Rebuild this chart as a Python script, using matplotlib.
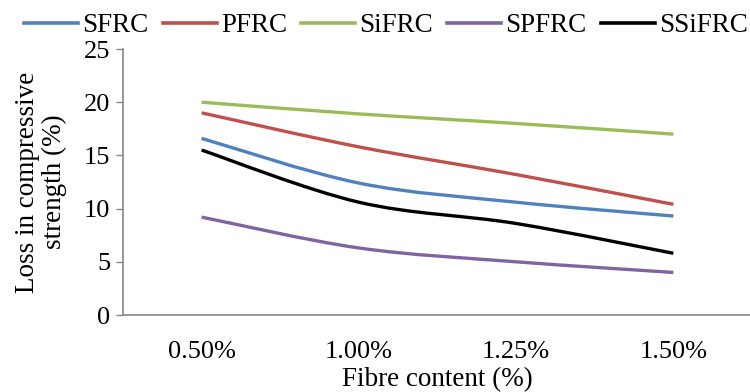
import matplotlib
matplotlib.use("Agg")
import matplotlib.pyplot as plt
from matplotlib.path import Path
from matplotlib.patches import PathPatch
from matplotlib.lines import Line2D
import numpy as np

plt.rcParams['font.family'] = ['Liberation Serif', 'DejaVu Serif']

categories = ["0.50%", "1.00%", "1.25%", "1.50%"]
series_names = ["SFRC", "PFRC", "SiFRC", "SPFRC", "SSiFRC"]
sfrc = [16.6, 12.4, 10.6, 9.3]
pfrc = [19.0, 15.8, 13.2, 10.4]
sifrc = [20.0, 18.9, 18.0, 17.0]
spfrc = [9.2, 6.3, 5.0, 4.0]
ssifrc = [15.5, 10.6, 8.6, 5.8]
colors = ["#4F81BD", "#C0504D", "#9BBB59", "#8064A2", "#000000"]
series_values = [sfrc, pfrc, sifrc, spfrc, ssifrc]

W, H = 750, 392
fig = plt.figure(figsize=(W / 100, H / 100), dpi=100)
left, right, bottom, top = 123, 752, 315, 49
ax = fig.add_axes([left / W, 1 - bottom / H, (right - left) / W, (bottom - top) / H])


def smooth_path(xs, ys):
    pts = np.column_stack([xs, ys]).astype(float)
    n = len(pts)
    verts = [pts[0]]
    codes = [Path.MOVETO]
    for i in range(n - 1):
        p0 = pts[i - 1] if i > 0 else pts[i]
        p1 = pts[i]
        p2 = pts[i + 1]
        p3 = pts[i + 2] if i + 2 < n else pts[i + 1]
        c1 = p1 + (p2 - p0) / 6.0
        c2 = p2 - (p3 - p1) / 6.0
        verts += [c1, c2, p2]
        codes += [Path.CURVE4] * 3
    return Path(verts, codes)


x = np.arange(len(categories))
handles = []
for name, vals, col in zip(series_names, series_values, colors):
    patch = PathPatch(smooth_path(x, vals), facecolor='none', edgecolor=col,
                      lw=2.4, capstyle='butt', joinstyle='round')
    ax.add_patch(patch)
    handles.append(Line2D([], [], color=col, lw=2.6, label=name))

FS = 19.5
ax.set_xlim(-0.5, len(categories) - 0.5)
ax.set_ylim(0, 25)
ax.set_yticks(range(0, 26, 5))
ax.set_xticks(x)
ax.set_xticklabels(categories)
ax.tick_params(axis='x', length=0, pad=19, labelsize=19)
ax.tick_params(axis='y', length=5, width=1, color='#888888', pad=4, labelsize=19)
for s in ['top', 'right']:
    ax.spines[s].set_visible(False)
for s in ['left', 'bottom']:
    ax.spines[s].set_color('#888888')
    ax.spines[s].set_linewidth(1.2)

ax.set_ylabel("Loss in compressive\nstrength (%)", fontsize=FS, linespacing=1.12, labelpad=12)
ax.set_xlabel("Fibre content (%)", fontsize=FS, labelpad=3)

fig.legend(handles=handles, loc='center', bbox_to_anchor=(386 / W, 1 - 26 / H),
           ncol=5, frameon=False, fontsize=FS, handlelength=2.0,
           handletextpad=0.15, columnspacing=0.52, borderpad=0)

fig.savefig("out.png", dpi=100)
